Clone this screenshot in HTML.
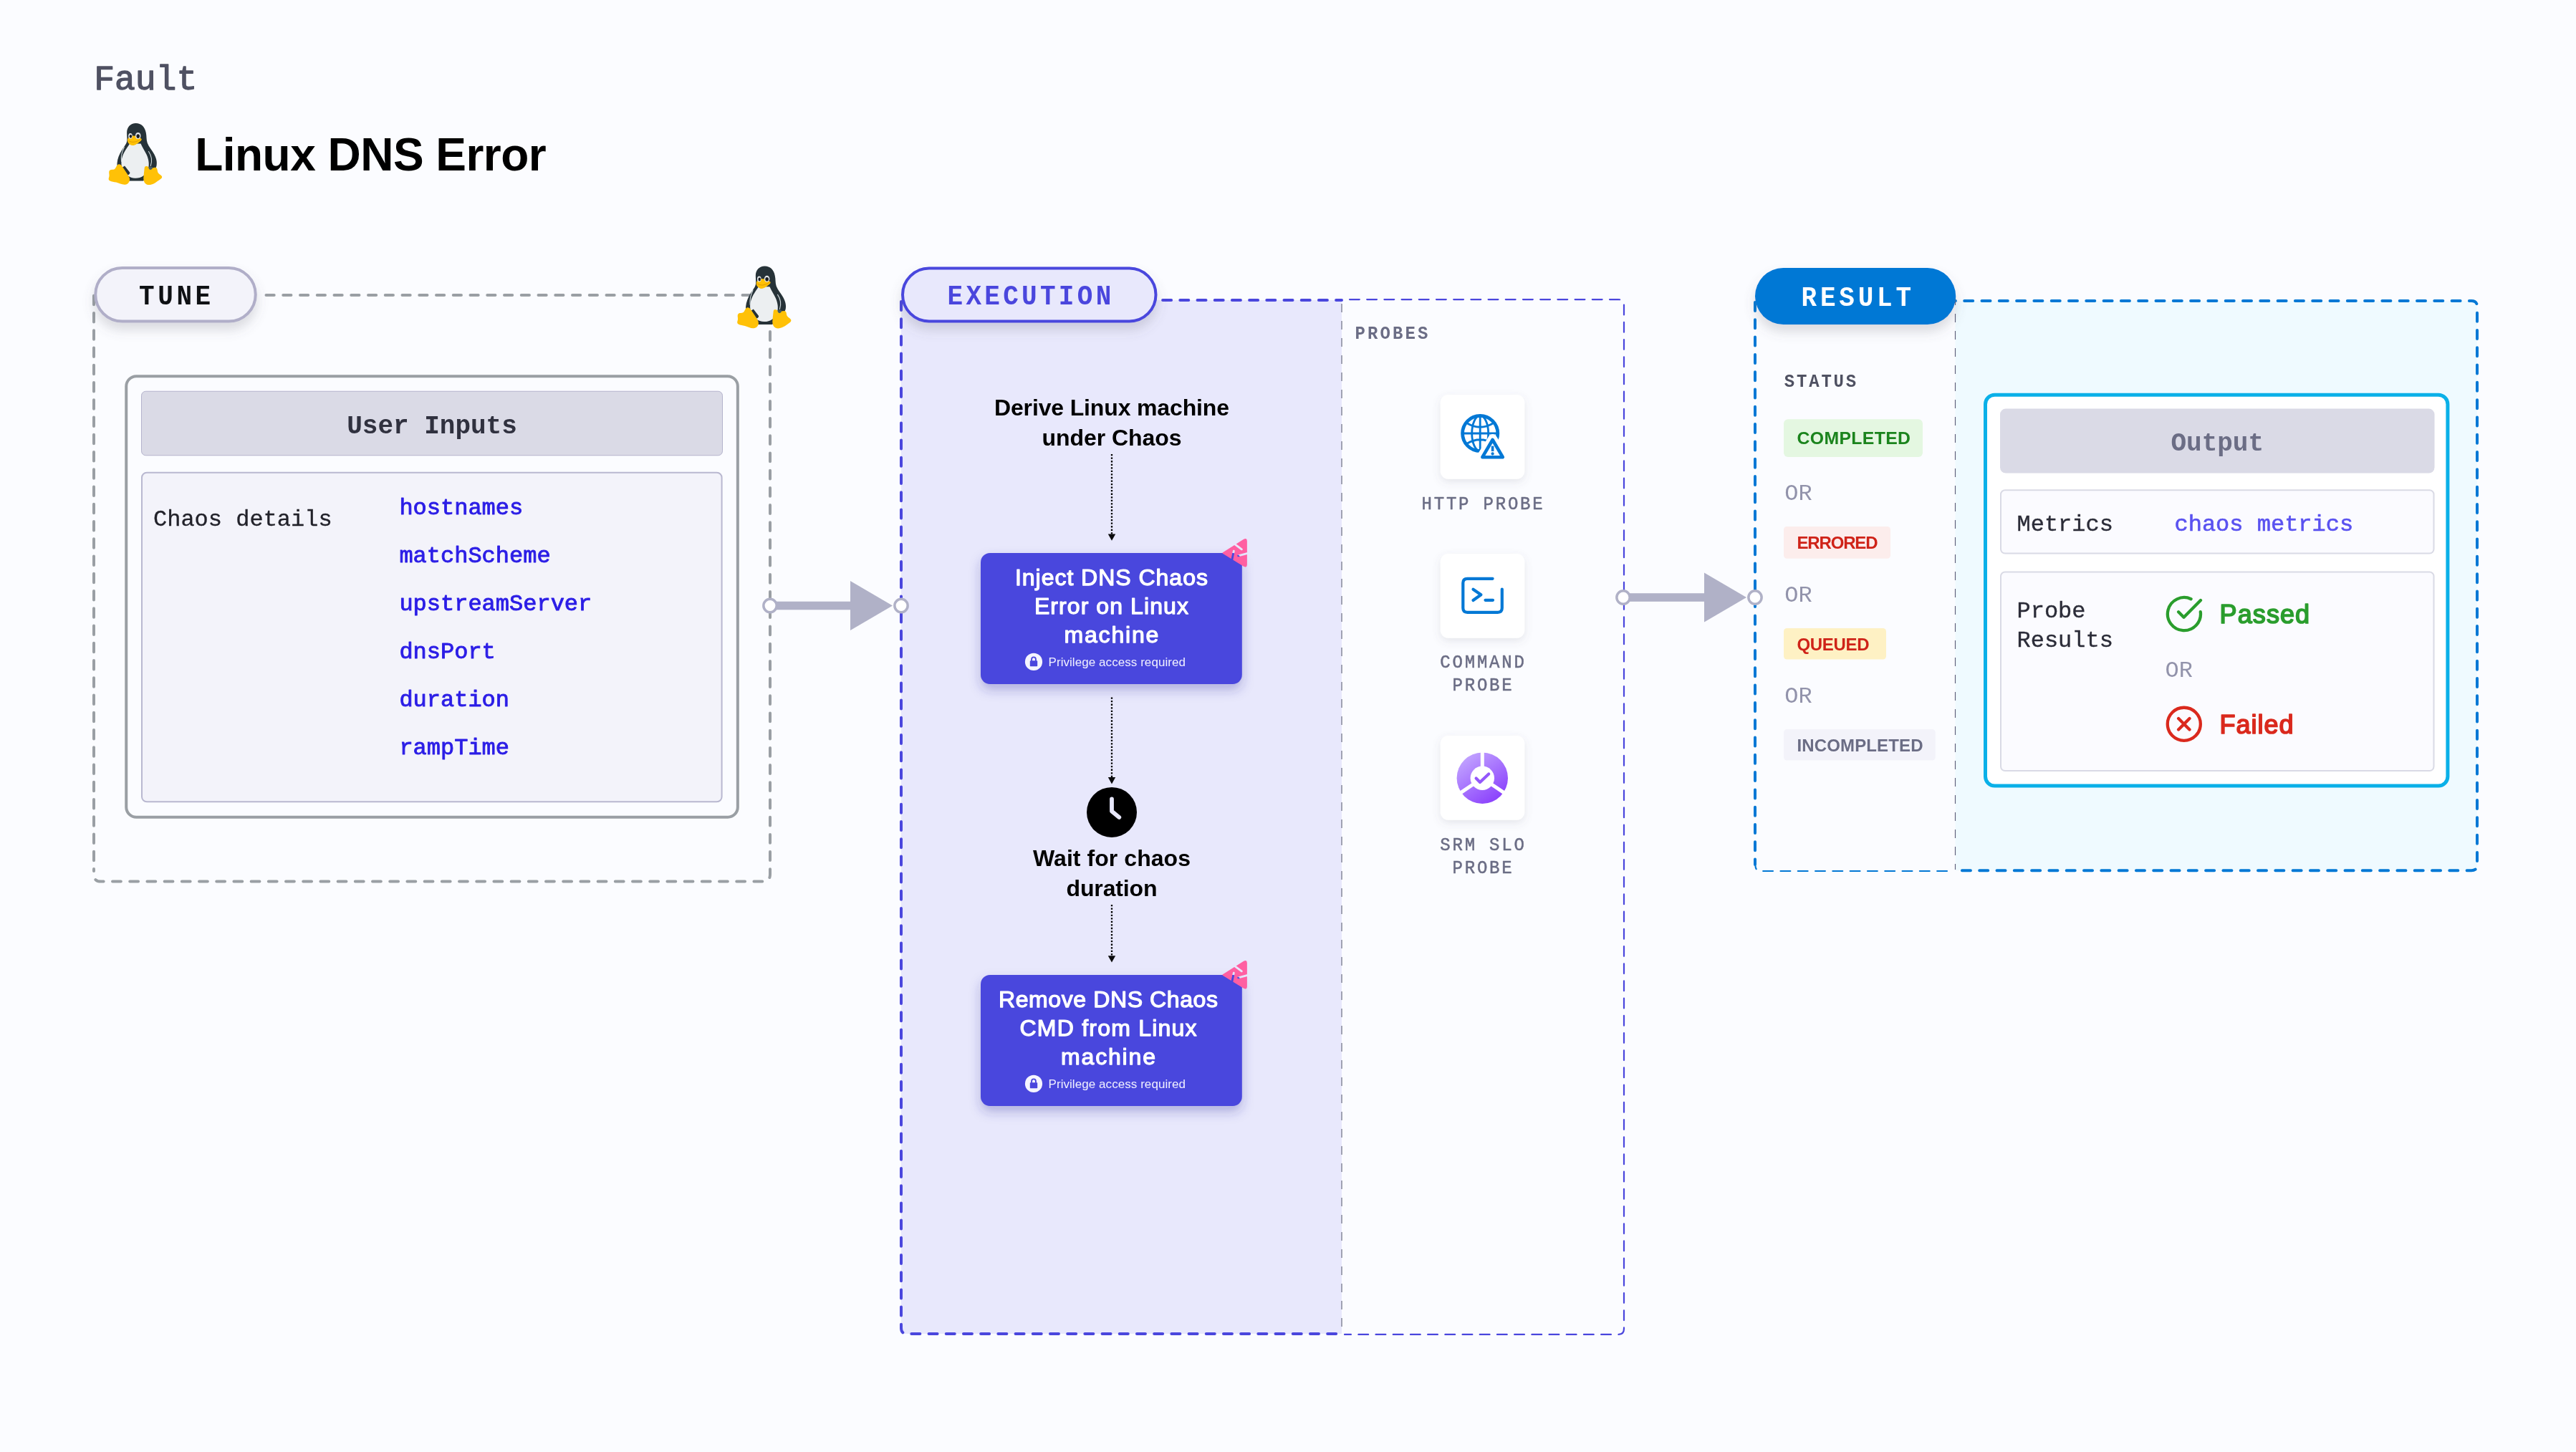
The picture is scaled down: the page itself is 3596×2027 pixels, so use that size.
<!DOCTYPE html>
<html lang="en">
<head>
<meta charset="utf-8">
<title>Linux DNS Error</title>
<style>
html,body{margin:0;padding:0;background:#fbfcff;}
body{width:3596px;height:2027px;overflow:hidden;font-family:'Liberation Sans',sans-serif;}
svg{display:block;}
text{white-space:pre;}
</style>
</head>
<body>
<svg width="3596" height="2027" viewBox="0 0 3596 2027" style="opacity:0.9999">
<defs>
<filter id="shPill" x="-20%" y="-40%" width="140%" height="220%"><feDropShadow dx="0" dy="10" stdDeviation="8" flood-color="#606170" flood-opacity="0.22"/></filter>
<filter id="shBox" x="-20%" y="-30%" width="140%" height="180%"><feDropShadow dx="0" dy="8" stdDeviation="8" flood-color="#2d2a9a" flood-opacity="0.30"/></filter>
<filter id="shCard" x="-30%" y="-30%" width="160%" height="180%"><feDropShadow dx="0" dy="4" stdDeviation="6" flood-color="#606170" flood-opacity="0.14"/></filter>
<linearGradient id="srmG" x1="0.15" y1="0.05" x2="0.8" y2="0.95"><stop offset="0" stop-color="#c3a6ff"/><stop offset="1" stop-color="#8a3ffc"/></linearGradient>
<g id="tux">
<path d="M38.2 0C30.5 0 25.6 5.6 25.6 13.2c0 4.2.6 8 .2 11.2-.6 4.6-4.6 8.8-7.8 14.2-3 5-5.6 11.4-6 17.4-.2 3.4.4 6.4 2 9l10.400 15.600h24.200l10.800-13.400c3.600-1 6.600-3.400 7.600-7.800 1.200-5.600-.6-11.400-3.400-16.400-3-5.400-7.400-9.800-9.400-15.400-1.600-4.600-.8-9.600-2-14.600C50.800 5.200 45.600 0 38.200 0z" fill="#263238"/>
<path d="M29.600 28.400c-2.200 3.800-6.800 9.600-9.400 15.800-2.600 6.400-3.200 13.600-.6 19.800 3 7.200 9.400 12.600 17.600 12.800 8.600.2 15.200-4.800 17.800-11.800 2.400-6.600 1.200-14.400-1.800-21-2.400-5.200-6.200-10.800-8.200-15.600z" fill="#eceff1"/>
<path d="M27.400 20.800c1.800-2.400 5.600-3.600 8.600-3.200 3.400.4 7 2 9.600 4 1 .8.600 2.200-.4 3-3 2.400-6.200 5.600-10.200 6.400-3 .6-6-1.400-7.600-3.800-1.200-1.800-1.400-4.600 0-6.400z" fill="#ffc107"/>
<path d="M27.600 24.200c2.400 1.800 5.200 2.400 8.200 2 3.200-.4 6.200-1.800 9-3.800" fill="none" stroke="#e09b00" stroke-width="1"/>
<ellipse cx="30.500" cy="17.800" rx="2.800" ry="3.900" fill="#e4e7e9"/><ellipse cx="41.200" cy="17.500" rx="3.700" ry="4.500" fill="#e4e7e9"/>
<ellipse cx="30.900" cy="18.300" rx="1.700" ry="2.400" fill="#1b1f22"/><ellipse cx="41.200" cy="18.100" rx="2.300" ry="2.800" fill="#1b1f22"/>
<path d="M21.800 33.500C18.800 39.500 17.200 46.500 18 53.500M56 39.500C59.800 45 61.400 52 58.800 59.500" fill="none" stroke="#cfd8dc" stroke-width="1.100" stroke-linecap="round"/>
<path d="M22.500 59.500L29.800 68.800Q30.200 70.400 28.400 71.800L24.500 73L19 62Z" fill="#263238"/>
<path d="M13.600 57.400c1.800-.6 3.600.4 4.800 2 2.600 3.400 5 7.200 7.400 10.800 1.600 2.600 3.800 5.200 3.800 8.400 0 3.800-3 7-6.800 7.200-4.200.2-8-2-12-3.200-3-.8-6.400-.8-9.200-2.400-1.800-1-1.600-3-1-4.600.6-1.800.4-3.600.2-5.400-.2-1.600-.2-3.600 1.200-4.600 1.800-1.200 4.200-.4 6.200-1.400 2-1.200 3-5.800 5.400-6.800z" fill="#ffc107"/>
<path d="M51.800 60.200c1.600-.4 3.200.4 4.600 1.200 1.800 1 4 1.200 6 .8 1.600-.4 3.400-.8 4.600.4 1.400 1.600 1 4 1.800 5.800 1 2.200 3.600 3.200 5.200 5 1.200 1.400.6 3.200-.8 4.200-3.200 2.200-6.200 4.800-9.800 6.600-3.200 1.600-7.200 2.800-10.600 1-3-1.600-4-5.200-4-8.400.2-4.800 1-9.600 1.400-14.400.2-1 .6-1.900 1.600-2.200z" fill="#ffc107"/>
<path d="M55.800 61.200Q58.600 59.600 61.600 61.400Q61.400 64.400 58.800 65Q56 64.600 55.800 61.200Z" fill="#455a64"/>
</g>
<g id="chaosTri">
<mask id="triMask" maskUnits="userSpaceOnUse" x="-5" y="-5" width="50" height="50">
<rect x="-5" y="-5" width="50" height="50" fill="#fff"/>
<path d="M17.600 8.200L27.600 15.600M16.600 18L14 31M23 24.600L36 21.200" stroke="#000" stroke-width="2.900" stroke-linecap="round" fill="none"/>
</mask>
<path d="M1.600 20.800L30.800 2.200Q34.400 0.400 34.400 4.200V37Q34.400 40.800 30.800 39Z" fill="#ff5fa2" stroke="#ff5fa2" stroke-width="1.500" stroke-linejoin="round" mask="url(#triMask)"/>
</g>
<g id="lock">
<circle cx="0" cy="0" r="12.100" fill="#f5f5ff"/>
<rect x="-5.200" y="-1.600" width="10.400" height="8" rx="0.800" fill="#4a46dd"/>
<path d="M-2.900 -1.200V-3.600a2.900 2.900 0 0 1 5.800 0V-1.200" fill="none" stroke="#4a46dd" stroke-width="1.900"/>
</g>
</defs>
<rect width="3596" height="2027" fill="#fbfcff"/>
<g id="header">
<text x="131.2" y="124.8" font-family="'Liberation Mono', monospace" font-size="48" fill="#4f5162" stroke="#4f5162" stroke-width="1.3" stroke-linejoin="round">Fault</text>
<use href="#tux" x="151.500" y="172"/>
<text x="272.2" y="238" font-family="'Liberation Sans', sans-serif" font-size="64" fill="#000" font-weight="bold" textLength="490.5" lengthAdjust="spacing">Linux DNS Error</text>
</g>
<g id="tune">
<path d="M371.500 412H1066" fill="none" stroke="#9a9fa4" stroke-width="4" stroke-dasharray="11.200 12.550" stroke-linecap="round"/>
<path d="M1075 438.900V1220.600Q1075 1230.600 1065 1230.600H141Q131 1230.600 131 1220.600" fill="none" stroke="#9a9fa4" stroke-width="4" stroke-dasharray="11.800 12.400" stroke-linecap="round"/>
<path d="M131 412.750V1216" fill="none" stroke="#9a9fa4" stroke-width="4" stroke-dasharray="12.400 11.850" stroke-linecap="round"/>
<rect x="133.250" y="374" width="223.500" height="74.500" rx="37.250" fill="#f3f3fa" stroke="#b0aec8" stroke-width="4" filter="url(#shPill)"/>
<text x="194" y="425.5" font-family="'Liberation Mono', monospace" font-size="36" fill="#0f1114" transform="translate(0 425.5) scale(1 1.08) translate(0 -425.5)" font-weight="bold" letter-spacing="4.6">TUNE</text>
<use href="#tux" x="1029" y="371.500" transform="translate(1029 371.500) scale(1.010) translate(-1029 -371.500)"/>
<rect x="176.250" y="525.250" width="853.600" height="615.400" rx="14" fill="#fbfcff" stroke="#9a9fa4" stroke-width="4"/>
<rect x="197.500" y="546.250" width="811" height="89.500" rx="6" fill="#dadae6" stroke="#b4b3cc" stroke-width="1"/>
<text x="603" y="605" font-family="'Liberation Mono', monospace" font-size="36" fill="#30313f" font-weight="bold" text-anchor="middle">User Inputs</text>
<rect x="198" y="659.750" width="809.600" height="459.500" rx="7" fill="#f3f3fa" stroke="#b9b8d0" stroke-width="2"/>
<text x="214" y="733.5" font-family="'Liberation Mono', monospace" font-size="32" fill="#22222a" stroke="#22222a" stroke-width="0.3" stroke-linejoin="round">Chaos details</text>
<text x="557.4" y="718.2" font-family="'Liberation Mono', monospace" font-size="32" fill="#2b1de6" stroke="#2b1de6" stroke-width="0.9" stroke-linejoin="round">hostnames</text>
<text x="557.4" y="785.2" font-family="'Liberation Mono', monospace" font-size="32" fill="#2b1de6" stroke="#2b1de6" stroke-width="0.9" stroke-linejoin="round">matchScheme</text>
<text x="557.4" y="852.2" font-family="'Liberation Mono', monospace" font-size="32" fill="#2b1de6" stroke="#2b1de6" stroke-width="0.9" stroke-linejoin="round">upstreamServer</text>
<text x="557.4" y="919.4" font-family="'Liberation Mono', monospace" font-size="32" fill="#2b1de6" stroke="#2b1de6" stroke-width="0.9" stroke-linejoin="round">dnsPort</text>
<text x="557.4" y="986.4" font-family="'Liberation Mono', monospace" font-size="32" fill="#2b1de6" stroke="#2b1de6" stroke-width="0.9" stroke-linejoin="round">duration</text>
<text x="557.4" y="1053.4" font-family="'Liberation Mono', monospace" font-size="32" fill="#2b1de6" stroke="#2b1de6" stroke-width="0.9" stroke-linejoin="round">rampTime</text>
</g>
<g id="execution">
<rect x="1258" y="419" width="615" height="1443" fill="#e8e8fc"/>
<path d="M1873 419H1600" fill="none" stroke="#4a46dd" stroke-width="4" stroke-dasharray="12 12.200" stroke-dashoffset="4.100" stroke-linecap="round"/>
<path d="M1258 421V1854Q1258 1862 1266 1862H1873" fill="none" stroke="#4a46dd" stroke-width="4" stroke-dasharray="12 12.200" stroke-linecap="round"/>
<path d="M1884 418.100H2259Q2267 418.100 2267 426V1855Q2267 1862.900 2259 1862.900H1877" fill="none" stroke="#4a46dd" stroke-width="2.200" stroke-dasharray="13.800 10.400" stroke-linecap="round"/>
<path d="M1873 424V1860" fill="none" stroke="#9294a6" stroke-width="1.700" stroke-dasharray="12 12"/>
<rect x="1260" y="374.600" width="353.500" height="73.800" rx="36.900" fill="#e8e8fc" stroke="#4a46dd" stroke-width="4" filter="url(#shPill)"/>
<text x="1322.5" y="425" font-family="'Liberation Mono', monospace" font-size="36" fill="#4a46dd" transform="translate(0 425) scale(1 1.08) translate(0 -425)" font-weight="bold" letter-spacing="4.3">EXECUTION</text>
<text x="1891.5" y="472.8" font-family="'Liberation Mono', monospace" font-size="24" fill="#6b6d85" transform="translate(0 472.8) scale(1 1.08) translate(0 -472.8)" font-weight="bold" letter-spacing="3.1">PROBES</text>
<text x="1552" y="580" font-family="'Liberation Sans', sans-serif" font-size="32" fill="#000" font-weight="bold" text-anchor="middle" textLength="328" lengthAdjust="spacing">Derive Linux machine</text>
<text x="1552" y="621.8" font-family="'Liberation Sans', sans-serif" font-size="32" fill="#000" font-weight="bold" text-anchor="middle" textLength="195" lengthAdjust="spacing">under Chaos</text>
<path d="M1552 634V746.8" stroke="#000" stroke-width="2.300" stroke-dasharray="2.300 2.250" fill="none"/><path d="M1546.8 745.4H1557.2L1552 754.8Z" fill="#0b0b0d"/>
<rect x="1369" y="772" width="364.800" height="183" rx="13" fill="#4a46dd" filter="url(#shBox)"/>
<text x="1551.4" y="817.4" font-family="'Liberation Sans', sans-serif" font-size="32" fill="#fff" stroke="#fff" stroke-width="1.25" stroke-linejoin="round" text-anchor="middle" textLength="269" lengthAdjust="spacing">Inject DNS Chaos</text>
<text x="1551.4" y="857.4" font-family="'Liberation Sans', sans-serif" font-size="32" fill="#fff" stroke="#fff" stroke-width="1.25" stroke-linejoin="round" text-anchor="middle" textLength="215" lengthAdjust="spacing">Error on Linux</text>
<text x="1551.4" y="897.4" font-family="'Liberation Sans', sans-serif" font-size="32" fill="#fff" stroke="#fff" stroke-width="1.25" stroke-linejoin="round" text-anchor="middle" textLength="132" lengthAdjust="spacing">machine</text>
<use href="#lock" x="1443" y="923.9"/>
<text x="1463.5" y="930" font-family="'Liberation Sans', sans-serif" font-size="17" fill="#f0f0ff" textLength="191.5" lengthAdjust="spacing">Privilege access required</text>
<use href="#chaosTri" x="1705.700" y="751.2"/>
<path d="M1552 973.5V1086.5" stroke="#000" stroke-width="2.300" stroke-dasharray="2.300 2.250" fill="none"/><path d="M1546.8 1085.1H1557.2L1552 1094.5Z" fill="#0b0b0d"/>
<circle cx="1552" cy="1133.900" r="35" fill="#000"/>
<path d="M1552 1115.300V1132.600L1562.300 1141" fill="none" stroke="#e8e8fc" stroke-width="5.800" stroke-linecap="round" stroke-linejoin="round"/>
<text x="1552" y="1209" font-family="'Liberation Sans', sans-serif" font-size="32" fill="#000" font-weight="bold" text-anchor="middle" textLength="220" lengthAdjust="spacing">Wait for chaos</text>
<text x="1552" y="1250.7" font-family="'Liberation Sans', sans-serif" font-size="32" fill="#000" font-weight="bold" text-anchor="middle" textLength="127" lengthAdjust="spacing">duration</text>
<path d="M1552 1263V1335.6" stroke="#000" stroke-width="2.300" stroke-dasharray="2.300 2.250" fill="none"/><path d="M1546.8 1334.1999999999998H1557.2L1552 1343.6Z" fill="#0b0b0d"/>
<rect x="1369" y="1361" width="364.800" height="183" rx="13" fill="#4a46dd" filter="url(#shBox)"/>
<text x="1547" y="1406.4" font-family="'Liberation Sans', sans-serif" font-size="32" fill="#fff" stroke="#fff" stroke-width="1.25" stroke-linejoin="round" text-anchor="middle" textLength="306" lengthAdjust="spacing">Remove DNS Chaos</text>
<text x="1547" y="1446.4" font-family="'Liberation Sans', sans-serif" font-size="32" fill="#fff" stroke="#fff" stroke-width="1.25" stroke-linejoin="round" text-anchor="middle" textLength="247" lengthAdjust="spacing">CMD from Linux</text>
<text x="1547" y="1486.4" font-family="'Liberation Sans', sans-serif" font-size="32" fill="#fff" stroke="#fff" stroke-width="1.25" stroke-linejoin="round" text-anchor="middle" textLength="132" lengthAdjust="spacing">machine</text>
<use href="#lock" x="1443" y="1512.9"/>
<text x="1463.5" y="1519" font-family="'Liberation Sans', sans-serif" font-size="17" fill="#f0f0ff" textLength="191.5" lengthAdjust="spacing">Privilege access required</text>
<use href="#chaosTri" x="1705.700" y="1340.2"/>
<rect x="2010.800" y="551" width="117.400" height="117.800" rx="11" fill="#fff" filter="url(#shCard)"/>
<rect x="2010.800" y="773" width="117.400" height="117.800" rx="11" fill="#fff" filter="url(#shCard)"/>
<rect x="2010.800" y="1027" width="117.400" height="117.800" rx="11" fill="#fff" filter="url(#shCard)"/>
<g id="icoWeb" fill="none" stroke="#0278d5" stroke-linecap="round" stroke-linejoin="round">
<circle cx="2066.200" cy="605" r="24.600" stroke-width="4.800"/>
<ellipse cx="2066.200" cy="605" rx="11.500" ry="24.600" stroke-width="2.800"/>
<path d="M2066.200 580.400V629.600M2041.600 605H2090.800M2047.500 590.500Q2066.200 602 2084.900 590.500M2047.500 619.500Q2066.200 608 2084.900 619.500" stroke-width="2.800"/>
<path d="M2083.600 612L2100.500 639H2066.700Z" fill="#fff" stroke="#fff" stroke-width="12"/>
<path d="M2083.600 614L2097.800 638.200H2069.400Z" fill="#fff" stroke-width="4.600"/>
<path d="M2083.600 622.600V630" stroke-width="3.600" stroke-linecap="butt"/><circle cx="2083.600" cy="633.400" r="2.100" fill="#0278d5" stroke="none"/>
</g>
<text x="2070.5" y="711" font-family="'Liberation Mono', monospace" font-size="24" fill="#6b6d85" stroke="#6b6d85" stroke-width="0.5" stroke-linejoin="round" transform="translate(0 711) scale(1 1.08) translate(0 -711)" text-anchor="middle" letter-spacing="2.8">HTTP PROBE</text>
<g id="icoCmd" fill="none" stroke="#0278d5" stroke-width="4.200" stroke-linecap="round" stroke-linejoin="round">
<path d="M2083.600 807.800H2048.300Q2042.300 807.800 2042.300 813.800V848.800Q2042.300 854.800 2048.300 854.800H2090.800Q2096.800 854.800 2096.800 848.800V822.500"/>
<path d="M2056.500 822.800L2067.400 830.200L2056.500 838M2073.500 837.800H2084"/>
</g>
<text x="2070.5" y="932" font-family="'Liberation Mono', monospace" font-size="24" fill="#6b6d85" stroke="#6b6d85" stroke-width="0.5" stroke-linejoin="round" transform="translate(0 932) scale(1 1.08) translate(0 -932)" text-anchor="middle" letter-spacing="2.8">COMMAND</text>
<text x="2070.5" y="964" font-family="'Liberation Mono', monospace" font-size="24" fill="#6b6d85" stroke="#6b6d85" stroke-width="0.5" stroke-linejoin="round" transform="translate(0 964) scale(1 1.08) translate(0 -964)" text-anchor="middle" letter-spacing="2.8">PROBE</text>
<g id="icoSrm">
<circle cx="2069.300" cy="1086.200" r="35.700" fill="url(#srmG)"/>
<path d="M2069.300 1086.200V1048M2069.300 1086.200L2037.600 1107.600M2069.300 1086.200L2101 1107.600" stroke="#fff" stroke-width="5" fill="none"/>
<circle cx="2069.300" cy="1086.200" r="16.700" fill="#fff"/>
<path d="M2060.600 1086.600L2066 1092L2078.200 1080.400" fill="none" stroke="#9457fb" stroke-width="4.200" stroke-linecap="round" stroke-linejoin="round"/>
</g>
<text x="2070.5" y="1187" font-family="'Liberation Mono', monospace" font-size="24" fill="#6b6d85" stroke="#6b6d85" stroke-width="0.5" stroke-linejoin="round" transform="translate(0 1187) scale(1 1.08) translate(0 -1187)" text-anchor="middle" letter-spacing="2.8">SRM SLO</text>
<text x="2070.5" y="1218.6" font-family="'Liberation Mono', monospace" font-size="24" fill="#6b6d85" stroke="#6b6d85" stroke-width="0.5" stroke-linejoin="round" transform="translate(0 1218.6) scale(1 1.08) translate(0 -1218.6)" text-anchor="middle" letter-spacing="2.8">PROBE</text>
</g>
<g id="result">
<rect x="2729.500" y="420" width="728.500" height="795.200" fill="#effaff"/>
<path d="M2717.900 420.100H3450Q3458 420.100 3458 428V1207.200Q3458 1215.200 3450 1215.200H2732M2450 422V1207" fill="none" stroke="#0278d5" stroke-width="4" stroke-dasharray="12 12.300" stroke-linecap="round"/>
<path d="M2718 1216H2458Q2451 1216 2450.500 1209" fill="none" stroke="#0278d5" stroke-width="2.200" stroke-dasharray="13.800 10.500" stroke-linecap="round"/>
<path d="M2729.500 413.900V1214" fill="none" stroke="#5f607a" stroke-width="1.150" stroke-dasharray="12 12"/>
<rect x="2450" y="374" width="280.200" height="79" rx="39.500" fill="#0278d5" filter="url(#shPill)"/>
<text x="2514.5" y="427.1" font-family="'Liberation Mono', monospace" font-size="36" fill="#fff" transform="translate(0 427.1) scale(1 1.08) translate(0 -427.1)" font-weight="bold" letter-spacing="4.8">RESULT</text>
<text x="2490.8" y="540" font-family="'Liberation Mono', monospace" font-size="24" fill="#4f5162" transform="translate(0 540) scale(1 1.08) translate(0 -540)" font-weight="bold" letter-spacing="2.8">STATUS</text>
<rect x="2490" y="585.2" width="194" height="52.7" rx="6" fill="#e4f7e1"/>
<text x="2508.5" y="619.7" font-family="'Liberation Sans', sans-serif" font-size="24.8" fill="#1b841d" font-weight="bold" textLength="158.5" lengthAdjust="spacing">COMPLETED</text>
<text x="2491.3" y="697.7" font-family="'Liberation Mono', monospace" font-size="32" fill="#9293ab">OR</text>
<rect x="2490" y="734.9" width="149" height="44.8" rx="4.5" fill="#fcedec"/>
<text x="2508.5" y="765.8" font-family="'Liberation Sans', sans-serif" font-size="24" fill="#cf2318" font-weight="bold" textLength="113" lengthAdjust="spacing">ERRORED</text>
<text x="2491.3" y="839.6" font-family="'Liberation Mono', monospace" font-size="32" fill="#9293ab">OR</text>
<rect x="2490" y="876.9" width="143" height="43.7" rx="4.5" fill="#fef1c4"/>
<text x="2508.5" y="907.7" font-family="'Liberation Sans', sans-serif" font-size="24" fill="#cf2318" font-weight="bold" textLength="101" lengthAdjust="spacing">QUEUED</text>
<text x="2491.3" y="980.7" font-family="'Liberation Mono', monospace" font-size="32" fill="#9293ab">OR</text>
<rect x="2490" y="1018.1" width="211.8" height="43.4" rx="4.5" fill="#f3f3fa"/>
<text x="2508.5" y="1048.9" font-family="'Liberation Sans', sans-serif" font-size="24" fill="#6b6d85" font-weight="bold" textLength="176" lengthAdjust="spacing">INCOMPLETED</text>
<rect x="2771.500" y="551.200" width="645.400" height="545.800" rx="13" fill="#fff" stroke="#0ab0e8" stroke-width="5"/>
<rect x="2792" y="570.600" width="606.500" height="90" rx="8" fill="#dadae6"/>
<text x="3095.25" y="628.8" font-family="'Liberation Mono', monospace" font-size="36" fill="#6b6d85" font-weight="bold" text-anchor="middle">Output</text>
<rect x="2793" y="684.300" width="604.500" height="88.300" rx="6" fill="#fbfbff" stroke="#d9dae5" stroke-width="2"/>
<text x="2815.5" y="740.6" font-family="'Liberation Mono', monospace" font-size="32" fill="#2b2c38" stroke="#2b2c38" stroke-width="0.35" stroke-linejoin="round">Metrics</text>
<text x="3035.5" y="740.6" font-family="'Liberation Mono', monospace" font-size="32" fill="#5a52f0" stroke="#5a52f0" stroke-width="0.6" stroke-linejoin="round">chaos metrics</text>
<rect x="2793" y="798.500" width="604.500" height="277.600" rx="6" fill="#fbfbff" stroke="#d9dae5" stroke-width="2"/>
<text x="2815.5" y="861.6" font-family="'Liberation Mono', monospace" font-size="32" fill="#2b2c38" stroke="#2b2c38" stroke-width="0.35" stroke-linejoin="round">Probe</text>
<text x="2815.5" y="902.5" font-family="'Liberation Mono', monospace" font-size="32" fill="#2b2c38" stroke="#2b2c38" stroke-width="0.35" stroke-linejoin="round">Results</text>
<g id="icoPass" fill="none" stroke="#2a9d2d" stroke-width="4.300" stroke-linecap="round" stroke-linejoin="round">
<path d="M3058.600 836.200A23.050 23.050 0 1 0 3071.800 854.200"/>
<path d="M3041.100 854.300L3048.500 861.700L3072 838"/>
</g>
<text x="3098.6" y="869.8" font-family="'Liberation Sans', sans-serif" font-size="36" fill="#2a9d2d" stroke="#2a9d2d" stroke-width="1.7" stroke-linejoin="round" textLength="125.5" lengthAdjust="spacing">Passed</text>
<text x="3022.5" y="944.8" font-family="'Liberation Mono', monospace" font-size="32" fill="#9293ab">OR</text>
<g id="icoFail" fill="none" stroke="#da291d" stroke-width="4.300" stroke-linecap="round">
<circle cx="3048.800" cy="1010.800" r="23.050"/>
<path d="M3041.100 1003.100L3056.500 1018.500M3056.500 1003.100L3041.100 1018.500"/>
</g>
<text x="3098.6" y="1023.8" font-family="'Liberation Sans', sans-serif" font-size="36" fill="#da291d" stroke="#da291d" stroke-width="1.7" stroke-linejoin="round" textLength="103" lengthAdjust="spacing">Failed</text>
</g>
<g class="arrow"><rect x="1075" y="839.7" width="113" height="11.600" fill="#b0b1c7"/><path d="M1187 811.1L1246 845.5L1187 879.9Z" fill="#b0b1c7"/><circle cx="1075" cy="845.5" r="9.150" fill="#fff" stroke="#b0b1c7" stroke-width="3.500"/><circle cx="1258" cy="845.5" r="9.150" fill="#fff" stroke="#b0b1c7" stroke-width="3.500"/></g>
<g class="arrow"><rect x="2266" y="828.2" width="114" height="11.600" fill="#b0b1c7"/><path d="M2379 799.6L2438 834L2379 868.4Z" fill="#b0b1c7"/><circle cx="2266" cy="834" r="9.150" fill="#fff" stroke="#b0b1c7" stroke-width="3.500"/><circle cx="2450" cy="834" r="9.150" fill="#fff" stroke="#b0b1c7" stroke-width="3.500"/></g>
</svg>
</body>
</html>
